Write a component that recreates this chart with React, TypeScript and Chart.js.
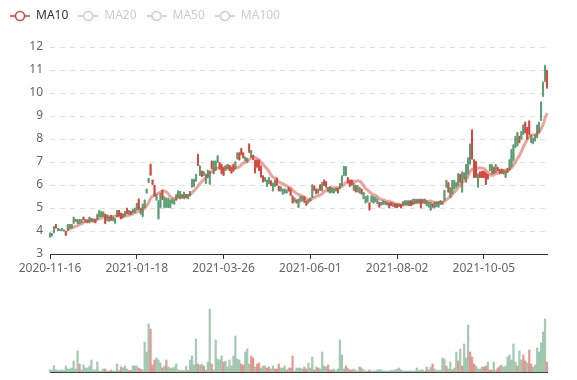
import React, { useEffect, useRef } from 'react';
import { Chart, registerables } from 'chart.js';

Chart.register(...registerables);

// ---------- data ----------
const START_DATE = '2020-11-16';
// market closing days skipped when listing the trading days
const HOLIDAYS = [
  '2021-01-01', '2021-02-11', '2021-02-12', '2021-02-15', '2021-02-16', '2021-02-17',
  '2021-04-05', '2021-05-03', '2021-05-04', '2021-09-20', '2021-09-21',
];
const LABEL_EVERY = 44;

// [open, close, low, high]
const candles: [number, number, number, number][] = [
  [3.76, 3.88, 3.72, 3.92], [3.80, 3.88, 3.78, 3.90], [3.95, 4.18, 3.92, 4.20], [4.27, 4.14, 4.12, 4.29],
  [4.02, 4.11, 4.00, 4.12], [4.03, 4.07, 4.02, 4.08], [4.04, 4.10, 4.02, 4.12], [4.01, 4.04, 4.00, 4.05],
  [3.98, 3.84, 3.80, 4.00], [4.03, 4.27, 4.00, 4.29], [4.14, 4.27, 4.12, 4.29], [4.14, 4.27, 4.12, 4.29],
  [4.35, 4.58, 4.32, 4.61], [4.49, 4.43, 4.42, 4.50], [4.34, 4.48, 4.32, 4.50], [4.34, 4.50, 4.32, 4.52],
  [4.37, 4.48, 4.35, 4.50], [4.59, 4.49, 4.48, 4.61], [4.40, 4.48, 4.38, 4.50], [4.46, 4.37, 4.35, 4.48],
  [4.37, 4.58, 4.35, 4.61], [4.42, 4.53, 4.40, 4.55], [4.40, 4.50, 4.38, 4.52], [4.48, 4.37, 4.35, 4.50],
  [4.52, 4.70, 4.49, 4.74], [4.64, 4.88, 4.62, 4.90], [4.64, 4.82, 4.62, 4.84], [4.65, 4.82, 4.63, 4.84],
  [4.72, 4.35, 4.32, 4.74], [4.46, 4.68, 4.44, 4.70], [4.44, 4.60, 4.42, 4.62], [4.66, 4.48, 4.46, 4.68],
  [4.46, 4.59, 4.44, 4.61], [4.35, 4.53, 4.33, 4.55], [4.63, 4.88, 4.61, 4.90], [4.88, 4.66, 4.64, 4.90],
  [4.77, 4.54, 4.52, 4.79], [4.60, 4.73, 4.58, 4.75], [4.67, 4.83, 4.65, 4.85], [4.98, 4.77, 4.75, 5.00],
  [4.74, 4.88, 4.72, 4.90], [4.85, 4.74, 4.72, 4.87], [4.81, 4.92, 4.79, 4.94], [4.81, 4.98, 4.79, 5.00],
  [4.93, 5.18, 4.90, 5.21], [5.36, 4.96, 4.93, 5.40], [4.75, 4.98, 4.72, 5.00], [4.65, 5.14, 4.61, 5.18],
  [5.04, 5.33, 5.01, 5.36], [5.66, 5.81, 5.64, 5.83], [6.12, 6.28, 6.10, 6.30], [6.88, 6.45, 6.41, 6.91],
  [6.20, 6.04, 6.02, 6.22], [5.96, 5.54, 5.50, 6.00], [5.36, 5.57, 5.33, 5.59], [4.56, 5.28, 4.51, 5.33],
  [5.05, 5.60, 5.01, 5.64], [5.75, 5.40, 5.36, 5.79], [5.05, 5.46, 5.01, 5.50], [5.05, 5.40, 5.01, 5.44],
  [5.05, 5.40, 5.01, 5.44], [5.04, 5.33, 5.01, 5.36], [5.22, 5.38, 5.20, 5.40], [5.18, 5.34, 5.16, 5.36],
  [5.36, 5.57, 5.33, 5.59], [5.47, 5.73, 5.44, 5.76], [5.43, 5.70, 5.40, 5.73], [5.45, 5.57, 5.43, 5.59],
  [5.43, 5.66, 5.40, 5.69], [5.45, 5.57, 5.43, 5.59], [5.42, 5.57, 5.39, 5.59], [5.55, 5.71, 5.53, 5.73],
  [5.93, 6.23, 5.90, 6.26], [5.96, 6.23, 5.93, 6.26], [6.19, 6.45, 6.16, 6.48], [7.30, 6.88, 6.84, 7.34],
  [6.45, 6.80, 6.41, 6.84], [6.59, 6.39, 6.36, 6.62], [6.44, 6.56, 6.41, 6.58], [6.08, 6.45, 6.05, 6.48],
  [6.33, 6.62, 6.30, 6.65], [6.06, 6.58, 6.02, 6.62], [7.02, 6.72, 6.69, 7.05], [6.52, 7.02, 6.48, 7.05],
  [6.66, 7.02, 6.62, 7.05], [7.01, 7.25, 6.98, 7.28], [6.95, 6.72, 6.69, 6.98], [6.88, 6.52, 6.48, 6.91],
  [6.73, 6.44, 6.41, 6.76], [6.64, 6.82, 6.62, 6.84], [6.71, 6.88, 6.69, 6.91], [6.84, 6.64, 6.62, 6.86],
  [6.74, 6.53, 6.51, 6.76], [6.88, 6.62, 6.59, 6.91], [6.72, 6.99, 6.69, 7.02], [7.15, 7.38, 7.12, 7.41],
  [7.38, 7.11, 7.08, 7.41], [7.57, 7.34, 7.31, 7.60], [7.38, 7.20, 7.17, 7.41], [7.07, 7.20, 7.05, 7.22],
  [7.00, 7.15, 6.98, 7.17], [7.76, 7.44, 7.41, 7.80], [7.23, 7.48, 7.20, 7.51], [7.27, 7.12, 7.09, 7.30],
  [7.05, 6.55, 6.51, 7.09], [7.06, 6.79, 6.76, 7.09], [7.05, 6.65, 6.62, 7.08], [6.80, 6.37, 6.33, 6.84],
  [6.38, 6.15, 6.12, 6.41], [6.18, 6.31, 6.16, 6.33], [5.96, 6.20, 5.93, 6.22], [6.08, 6.31, 6.05, 6.33],
  [6.17, 5.99, 5.97, 6.19], [5.76, 6.07, 5.73, 6.09], [5.96, 6.20, 5.93, 6.22], [6.28, 6.00, 5.97, 6.31],
  [5.93, 5.76, 5.73, 5.96], [5.76, 5.91, 5.73, 5.93], [5.62, 5.81, 5.59, 5.83], [5.67, 5.81, 5.64, 5.83],
  [5.67, 5.77, 5.64, 5.79], [5.88, 5.76, 5.73, 5.90], [5.80, 5.57, 5.54, 5.83], [5.51, 5.24, 5.21, 5.54],
  [5.29, 5.42, 5.26, 5.44], [5.34, 5.24, 5.21, 5.36], [5.05, 5.37, 5.01, 5.40], [5.29, 5.48, 5.26, 5.50],
  [5.33, 5.48, 5.30, 5.50], [5.47, 5.27, 5.24, 5.50], [5.27, 5.14, 5.11, 5.30], [5.24, 5.34, 5.21, 5.36],
  [5.32, 5.42, 5.30, 5.44], [5.49, 5.98, 5.45, 6.02], [5.94, 5.79, 5.76, 5.97], [5.80, 5.64, 5.61, 5.83],
  [5.67, 5.81, 5.64, 5.83], [5.99, 5.79, 5.76, 6.02], [5.76, 6.09, 5.73, 6.12], [6.19, 6.00, 5.97, 6.22],
  [6.13, 5.93, 5.90, 6.16], [5.72, 5.88, 5.69, 5.90], [5.67, 5.91, 5.64, 5.93], [5.70, 5.86, 5.67, 5.88],
  [5.67, 5.81, 5.64, 5.83], [5.75, 5.85, 5.73, 5.87], [5.84, 5.67, 5.64, 5.87], [5.86, 6.05, 5.83, 6.07],
  [6.00, 6.38, 5.97, 6.41], [6.45, 6.78, 6.41, 6.81], [6.45, 6.78, 6.41, 6.81], [6.30, 6.12, 6.09, 6.33],
  [6.19, 5.96, 5.93, 6.22], [6.19, 6.02, 5.99, 6.22], [5.79, 6.07, 5.76, 6.09], [5.96, 5.72, 5.69, 5.99],
  [5.72, 5.96, 5.69, 5.99], [5.67, 5.88, 5.64, 5.90], [5.80, 5.62, 5.59, 5.83], [5.43, 5.67, 5.40, 5.69],
  [5.24, 5.48, 5.21, 5.50], [5.29, 5.52, 5.26, 5.54], [5.20, 4.94, 4.90, 5.24], [5.29, 5.52, 5.26, 5.54],
  [5.24, 5.48, 5.21, 5.50], [5.29, 5.45, 5.26, 5.47], [5.21, 5.38, 5.18, 5.40], [5.23, 5.05, 5.03, 5.25],
  [5.14, 5.24, 5.12, 5.25], [5.17, 5.30, 5.15, 5.32], [5.17, 5.26, 5.15, 5.28], [5.14, 5.24, 5.12, 5.25],
  [5.20, 5.02, 5.00, 5.22], [5.23, 5.12, 5.10, 5.25], [5.08, 5.20, 5.06, 5.22], [5.16, 5.05, 5.03, 5.18],
  [5.16, 5.02, 5.00, 5.18], [5.08, 5.16, 5.06, 5.18], [5.13, 5.02, 5.00, 5.15], [5.12, 5.26, 5.10, 5.28],
  [5.17, 5.30, 5.15, 5.32], [5.17, 5.30, 5.15, 5.32], [5.12, 5.30, 5.10, 5.32], [5.30, 5.12, 5.10, 5.32],
  [5.17, 5.37, 5.15, 5.39], [5.22, 5.37, 5.20, 5.39], [5.22, 5.37, 5.20, 5.39], [5.22, 5.37, 5.20, 5.39],
  [5.36, 5.03, 5.00, 5.39], [5.22, 5.37, 5.20, 5.39], [5.20, 5.37, 5.18, 5.39], [5.12, 5.30, 5.10, 5.32],
  [5.05, 5.23, 5.03, 5.25], [4.93, 5.22, 4.89, 5.25], [5.16, 5.05, 5.03, 5.18], [5.02, 5.23, 5.00, 5.25],
  [5.08, 5.24, 5.05, 5.26], [5.05, 5.26, 5.03, 5.28], [5.17, 5.30, 5.15, 5.32], [5.17, 5.26, 5.15, 5.28],
  [5.35, 5.75, 5.32, 5.78], [5.92, 6.18, 5.89, 6.21], [6.08, 5.71, 5.68, 6.11], [5.49, 5.86, 5.46, 5.89],
  [5.64, 6.18, 5.61, 6.21], [5.85, 6.18, 5.82, 6.21], [5.92, 6.08, 5.89, 6.11], [6.00, 6.47, 5.97, 6.50],
  [6.44, 6.14, 6.11, 6.47], [5.72, 6.54, 5.68, 6.58], [6.28, 6.51, 6.25, 6.54], [6.15, 6.86, 6.11, 6.90],
  [6.51, 7.15, 6.47, 7.19], [6.94, 7.75, 6.90, 7.79], [8.36, 7.15, 7.11, 8.41], [7.07, 6.36, 6.32, 7.11],
  [7.00, 6.36, 6.32, 7.04], [5.93, 6.46, 5.89, 6.50], [6.55, 6.35, 6.32, 6.58], [6.58, 6.35, 6.32, 6.61],
  [6.58, 6.35, 6.32, 6.61], [6.50, 6.05, 6.01, 6.54], [6.44, 6.28, 6.25, 6.47], [6.64, 6.86, 6.61, 6.90],
  [6.50, 6.86, 6.47, 6.90], [6.75, 6.53, 6.50, 6.78], [6.57, 6.86, 6.54, 6.90], [6.75, 6.64, 6.61, 6.78],
  [6.65, 6.53, 6.50, 6.68], [6.68, 6.52, 6.50, 6.70], [6.50, 6.65, 6.47, 6.68], [6.35, 6.58, 6.32, 6.61],
  [6.70, 6.57, 6.54, 6.73], [6.68, 7.07, 6.64, 7.11], [6.82, 7.51, 6.78, 7.55], [7.08, 7.72, 7.04, 7.76],
  [7.66, 8.08, 7.62, 8.12], [7.73, 8.25, 7.69, 8.29], [8.09, 7.86, 7.83, 8.12], [8.02, 8.30, 7.98, 8.34],
  [8.23, 8.58, 8.19, 8.62], [8.70, 8.30, 8.26, 8.74], [8.47, 8.02, 7.98, 8.51], [8.76, 8.23, 8.19, 8.80],
  [7.87, 8.15, 7.83, 8.19], [7.83, 8.01, 7.79, 8.05], [7.95, 8.15, 7.91, 8.19], [8.09, 8.58, 8.05, 8.62],
  [8.30, 8.70, 8.26, 8.74], [8.85, 9.58, 8.80, 9.63], [9.89, 10.44, 9.84, 10.49], [10.54, 11.16, 10.49, 11.21],
  [10.95, 10.25, 10.20, 11.00],
];

const volumes = [
  2.3, 1.5, 6.3, 2, 1.5, 1.5, 2, 1.5, 6, 3,
  3, 4, 11, 3, 21, 8, 2, 7, 4, 4,
  6, 12, 2, 2, 10, 1, 1, 3, 3, 1,
  1, 2, 1, 1, 8, 1.5, 5, 4, 6, 3,
  1.5, 1.5, 6, 6, 6, 4, 3, 2, 30, 20,
  48, 43, 7, 12, 14, 12, 9, 4, 6, 12,
  5, 4, 4, 5, 8, 2, 1.5, 1.5, 1.5, 6,
  1.5, 12, 16, 7, 33, 8, 7, 8, 6, 2,
  10, 63, 8, 2, 32, 13, 12, 16, 10, 11,
  5, 12, 6, 16, 36, 13, 12, 8, 7, 20,
  23, 8, 16, 14, 5, 8, 9, 4, 6, 6,
  4, 5, 3, 6, 3, 3, 8, 4, 4, 6,
  2, 4, 4, 16, 1, 4, 4, 4, 3, 5,
  3, 9, 4, 15, 2, 5, 4, 3, 20, 6,
  5, 7, 2, 2, 3, 1, 3, 32, 17, 3,
  6, 4, 2, 2, 3, 1.5, 1, 5, 4, 2,
  1, 1, 2, 1, 1, 1, 2, 2, 2, 1,
  1, 1, 1, 1.5, 1.5, 2, 3, 4, 2, 1,
  1, 1, 1, 1, 1, 1, 4, 1.5, 2, 2,
  1, 5, 2, 5, 8, 3, 1.5, 1.5, 2, 14,
  13, 6, 3, 10, 2, 4, 20, 11, 23, 6,
  28, 14, 47, 20, 15, 8, 6, 3, 3, 5,
  5, 6, 10, 2, 2, 10, 2, 4, 6, 7,
  5, 6, 15, 17, 12, 28, 10, 6, 21, 12,
  17, 11, 9, 22, 8, 5, 7, 24, 20, 29,
  40, 53, 10,
];

// g = up day, r = down day (volume bar colour)
const volumeDirs =
  'gggggggggg' + 'gggggrgggg' + 'ggggggggrg' + 'grggggrggg' + 'rrgggrrggg' +
  'grrrgggrgr' + 'gggggggggg' + 'rggggrggrg' + 'ggrgggggrg' + 'gggggggrrg' +
  'ggrrgrrggg' + 'rrggrrrggg' + 'rgrrgggggr' + 'rgggrgrggg' + 'grrrgggggg' +
  'rgrrgggrgg' + 'ggrggggggg' + 'gggggggggg' + 'gggggggggg' + 'grggrggggg' +
  'grggrggrgr' + 'gggrrrgggg' + 'rrgrrggrrg' + 'gggggggrgg' + 'rrgrrggggg' + 'ggr';

const MA_PERIODS = [10, 20, 50, 100];
const VOLUME_MAX = 72;

// ---------- styling ----------
const UP = '#5c9e74';
const DOWN = '#d5493c';
const UP_VOL = 'rgba(92,158,116,0.55)';
const DOWN_VOL = 'rgba(213,73,60,0.55)';
const MA_COLORS = ['#d5493c', '#c4a03a', '#5a7dc4', '#8b5ab8'];
const INACTIVE = '#cccccc';
const FONT = "'Noto Sans', 'DejaVu Sans', sans-serif";

function tradingDays(start: string, count: number, holidays: string[]): string[] {
  const out: string[] = [];
  const d = new Date(start + 'T00:00:00Z');
  while (out.length < count) {
    const wd = d.getUTCDay();
    const s = d.toISOString().slice(0, 10);
    if (wd !== 0 && wd !== 6 && !holidays.includes(s)) out.push(s);
    d.setUTCDate(d.getUTCDate() + 1);
  }
  return out;
}

function movingAverage(values: number[], n: number): (number | null)[] {
  return values.map((_, i) => {
    if (i < n - 1) return null;
    let s = 0;
    for (let k = i - n + 1; k <= i; k++) s += values[k];
    return s / n;
  });
}

function legendIcon(color: string): HTMLCanvasElement {
  const c = document.createElement('canvas');
  c.width = 20;
  c.height = 14;
  const ctx = c.getContext('2d')!;
  ctx.strokeStyle = color;
  ctx.lineWidth = 1.6;
  ctx.beginPath();
  ctx.moveTo(0, 7);
  ctx.lineTo(20, 7);
  ctx.stroke();
  ctx.beginPath();
  ctx.arc(10, 7, 4.5, 0, Math.PI * 2);
  ctx.fillStyle = '#fff';
  ctx.fill();
  ctx.stroke();
  return c;
}

const legendSpacer = {
  id: 'legendSpacer',
  beforeInit(chart: any) {
    const orig = chart.legend.fit;
    chart.legend.fit = function fit() {
      orig.call(this);
      this.height += 15;
    };
  },
};

export default function App() {
  const priceRef = useRef<HTMLCanvasElement>(null);
  const volRef = useRef<HTMLCanvasElement>(null);

  useEffect(() => {
    Chart.defaults.font.family = FONT;
    Chart.defaults.font.size = 12;
    const labels = tradingDays(START_DATE, candles.length, HOLIDAYS);
    const closes = candles.map((c) => c[1]);
    const candleColors = candles.map(([o, c]) => (c >= o ? UP : DOWN));

    const maDatasets = MA_PERIODS.map((p, i) => ({
      type: 'line' as const,
      label: 'MA' + p,
      data: movingAverage(closes, p),
      borderColor: i === 0 ? 'rgba(213,73,60,0.5)' : MA_COLORS[i],
      backgroundColor: MA_COLORS[i],
      borderWidth: 3,
      pointRadius: 0,
      tension: 0.35,
      hidden: i !== 0,
      order: 0,
      legendColor: MA_COLORS[i],
    }));

    const price = new Chart(priceRef.current!, {
      type: 'bar',
      data: {
        labels,
        datasets: [
          {
            type: 'bar',
            label: 'wick',
            data: candles.map((c) => [c[2], c[3]]) as any,
            backgroundColor: candleColors,
            barThickness: 1,
            grouped: false,
            borderWidth: 0,
            clip: false as any,
            order: 2,
          },
          {
            type: 'bar',
            label: 'body',
            data: candles.map(([o, c]) => [Math.min(o, c), Math.max(o, c)]) as any,
            backgroundColor: candleColors,
            barThickness: 1.3,
            grouped: false,
            borderWidth: 0,
            clip: false as any,
            order: 1,
          },
          ...(maDatasets as any[]),
        ],
      },
      options: {
        animation: false,
        responsive: false,
        events: [],
        layout: { padding: { left: 0, right: 30, top: 0, bottom: 0 } },
        plugins: {
          tooltip: { enabled: false },
          legend: {
            display: true,
            position: 'top',
            align: 'start',
            labels: {
              usePointStyle: true,
              pointStyleWidth: 20,
              padding: 10,
              font: { size: 12, family: FONT },
              generateLabels: (chart: any) =>
                chart.data.datasets
                  .map((ds: any, i: number) => ({ ds, i }))
                  .filter(({ ds }: any) => ds.type === 'line')
                  .map(({ ds, i }: any) => {
                    const active = !ds.hidden;
                    return {
                      text: ds.label,
                      datasetIndex: i,
                      hidden: false,
                      pointStyle: legendIcon(active ? ds.legendColor : INACTIVE),
                      fillStyle: '#fff',
                      strokeStyle: active ? ds.legendColor : INACTIVE,
                      lineWidth: 0,
                      fontColor: active ? '#333' : INACTIVE,
                    };
                  }),
            },
          },
        },
        scales: {
          x: {
            type: 'category',
            offset: false,
            grid: {
              display: true,
              drawOnChartArea: false,
              drawTicks: true,
              tickLength: 5,
              color: '#333',
              offset: false,
            },
            border: { display: true, color: '#333' },
            ticks: {
              autoSkip: false,
              maxRotation: 0,
              minRotation: 0,
              color: '#666',
              padding: 2,
              font: { size: 12, family: FONT },
              callback: (_v: any, i: number) => (i % LABEL_EVERY === 0 ? labels[i] : null),
            },
            afterFit: (s: any) => {
              s.height = 26;
            },
          },
          y: {
            min: 3,
            max: 12,
            ticks: { stepSize: 1, color: '#666', padding: 7, font: { size: 12, family: FONT } },
            grid: { color: '#e0e0e0', drawTicks: false },
            border: { display: false, dash: [5, 5] },
            afterFit: (s: any) => {
              s.width = 50;
            },
          },
        },
      } as any,
      plugins: [legendSpacer],
    });

    const vol = new Chart(volRef.current!, {
      type: 'bar',
      data: {
        labels,
        datasets: [
          {
            label: 'Volume',
            data: volumes,
            backgroundColor: volumes.map((_, i) => (volumeDirs[i] === 'r' ? DOWN_VOL : UP_VOL)),
            barThickness: 1.6,
            borderWidth: 0,
            clip: false as any,
          },
        ],
      },
      options: {
        animation: false,
        responsive: false,
        events: [],
        layout: { padding: { left: 0, right: 30, top: 20, bottom: 3 } },
        plugins: { legend: { display: false }, tooltip: { enabled: false } },
        scales: {
          x: {
            type: 'category',
            offset: false,
            grid: { display: false, drawTicks: false, offset: false },
            border: { display: true, color: '#333' },
            ticks: { display: false },
            afterFit: (s: any) => {
              s.height = 0;
            },
          },
          y: {
            min: 0,
            max: VOLUME_MAX,
            ticks: { display: false },
            grid: { display: false, drawTicks: false },
            border: { display: false },
            afterFit: (s: any) => {
              s.width = 50;
            },
          },
        },
      } as any,
    });

    return () => {
      price.destroy();
      vol.destroy();
    };
  }, []);

  return (
    <div style={{ position: 'fixed', left: 0, top: 0, width: 577, height: 380, background: '#fff' }}>
      <canvas ref={priceRef} width={577} height={280} style={{ position: 'absolute', left: 0, top: 0 }} />
      <canvas ref={volRef} width={577} height={95} style={{ position: 'absolute', left: 0, top: 280 }} />
    </div>
  );
}
